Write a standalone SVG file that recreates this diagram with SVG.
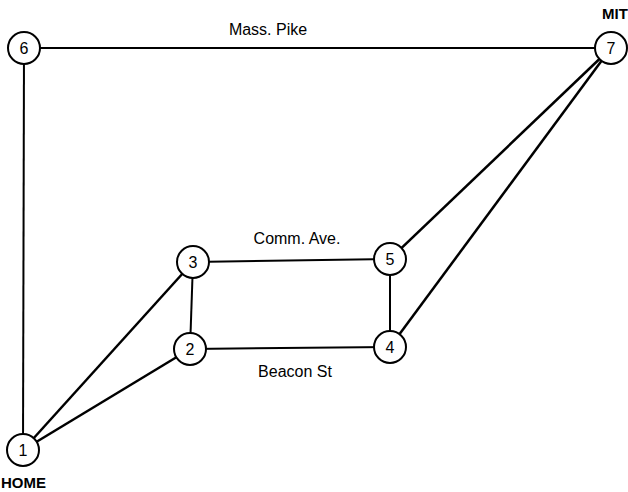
<svg xmlns="http://www.w3.org/2000/svg" width="628" height="492" viewBox="0 0 628 492">
<style>
.e{stroke:#000;stroke-width:2;fill:none}
.t{stroke-width:2.5}
.n circle{fill:#fff;stroke:#000;stroke-width:2}
.n text{font-family:"Liberation Sans",Arial,sans-serif;font-size:16px;text-anchor:middle;fill:#000}
.l{font-family:"Liberation Sans",Arial,sans-serif;font-size:16px;text-anchor:middle;fill:#000}
.b{font-family:"Liberation Sans",Arial,sans-serif;font-size:15px;font-weight:bold;fill:#000}
</style>
<rect width="628" height="492" fill="#fff"/>
<g id="edges">
<line class="e" x1="24" y1="48" x2="611" y2="48"/>
<line class="e" x1="24" y1="48" x2="23" y2="450"/>
<line class="e t" x1="23" y1="450" x2="193" y2="262"/>
<line class="e t" x1="23" y1="450" x2="190" y2="349"/>
<line class="e" x1="193" y1="262" x2="190" y2="349"/>
<line class="e" x1="193" y1="262" x2="390" y2="259"/>
<line class="e" x1="190" y1="349" x2="390" y2="347"/>
<line class="e" x1="390" y1="259" x2="390" y2="347"/>
<line class="e t" x1="390" y1="259" x2="611" y2="48"/>
<line class="e t" x1="390" y1="347" x2="611" y2="48"/>
</g>
<g id="labels">
<text class="l" x="268" y="35">Mass. Pike</text>
<text class="l" x="297" y="244">Comm. Ave.</text>
<text class="l" x="295" y="377">Beacon St</text>
<text class="b" x="1" y="488">HOME</text>
<text class="b" x="602" y="19">MIT</text>
</g>
<g id="node1" class="n"><circle cx="23" cy="450" r="16"/><text x="23" y="456">1</text></g>
<g id="node2" class="n"><circle cx="190" cy="349" r="16"/><text x="190" y="355">2</text></g>
<g id="node3" class="n"><circle cx="193" cy="262" r="16"/><text x="193" y="268">3</text></g>
<g id="node4" class="n"><circle cx="390" cy="347" r="16"/><text x="390" y="353">4</text></g>
<g id="node5" class="n"><circle cx="390" cy="259" r="16"/><text x="390" y="265">5</text></g>
<g id="node6" class="n"><circle cx="24" cy="48" r="16"/><text x="24" y="54">6</text></g>
<g id="node7" class="n"><circle cx="611" cy="48" r="16"/><text x="611" y="54">7</text></g>
</svg>
